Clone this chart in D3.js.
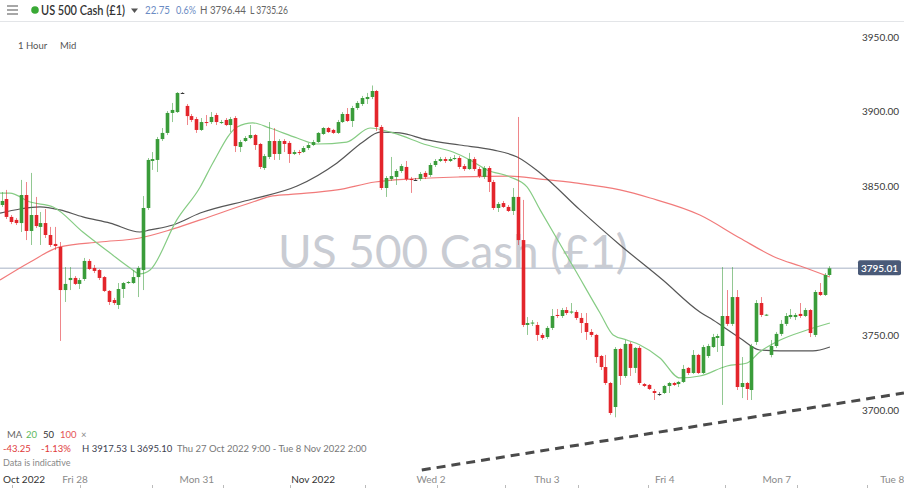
<!DOCTYPE html>
<html><head><meta charset="utf-8">
<script src="https://cdn.jsdelivr.net/npm/d3@7"></script>
<style>html,body{margin:0;padding:0;background:#fff;}svg{display:block;font-family:Lato,"Open Sans",sans-serif;}</style>
</head><body><svg id="c" width="904" height="488"></svg>
<script>
const opens=[3837.4,3841.4,3829.4,3827.4,3825.3,3844.1,3820.0,3830.7,3822.7,3825.3,3817.3,3811.3,3809.3,3780.4,3787.1,3788.5,3784.5,3787.8,3799.9,3795.2,3793.8,3789.1,3779.8,3773.7,3770.4,3781.1,3785.1,3785.1,3789.1,3793.8,3835.4,3866.9,3867.6,3881.6,3885.7,3899.1,3899.7,3912.5,3903.8,3897.0,3895.0,3887.7,3893.0,3893.0,3897.7,3892.4,3894.4,3891.0,3895.7,3876.3,3880.3,3882.3,3884.3,3878.3,3862.2,3869.6,3880.3,3871.6,3880.3,3879.0,3871.6,3872.9,3872.9,3875.6,3877.6,3879.6,3885.0,3889.0,3887.7,3885.7,3893.0,3898.4,3893.7,3902.4,3905.1,3908.4,3909.8,3913.8,3889.7,3848.8,3854.8,3856.2,3860.2,3862.9,3854.8,3854.2,3854.8,3858.9,3857.5,3864.2,3866.9,3868.2,3866.9,3868.2,3868.9,3863.5,3861.5,3868.2,3861.5,3856.2,3862.2,3852.8,3835.4,3838.7,3836.1,3833.4,3842.8,3813.9,3757.0,3758.3,3757.0,3750.3,3748.9,3755.0,3763.7,3763.0,3767.0,3765.3,3765.7,3761.7,3758.3,3752.3,3750.3,3736.2,3728.8,3718.1,3702.0,3740.9,3722.8,3744.3,3728.2,3741.6,3717.4,3716.8,3712.7,3710.7,3711.4,3716.1,3718.1,3717.4,3718.8,3728.2,3724.8,3736.9,3724.8,3736.2,3742.2,3748.3,3742.9,3763.0,3757.7,3775.7,3715.4,3718.1,3713.4,3745.6,3771.7,3763.5,3736.9,3742.9,3751.0,3757.7,3762.3,3762.3,3764.4,3763.0,3767.0,3750.3,3779.1,3777.1,3790.5];
const highs=[3846.1,3847.5,3830.7,3828.7,3854.2,3852.8,3858.9,3842.8,3832.7,3834.7,3822.7,3822.7,3812.6,3795.8,3795.8,3789.8,3788.5,3801.9,3801.2,3797.2,3794.5,3789.8,3780.4,3775.1,3785.1,3785.8,3786.5,3793.8,3796.5,3843.4,3868.9,3872.9,3883.0,3889.0,3900.4,3905.8,3913.1,3913.1,3905.1,3898.4,3896.4,3895.7,3897.7,3899.7,3899.1,3894.4,3895.7,3896.4,3897.0,3881.0,3883.6,3891.0,3885.0,3879.0,3871.6,3893.0,3889.0,3881.6,3881.6,3880.3,3874.3,3874.3,3876.9,3879.0,3881.0,3886.3,3889.7,3889.7,3888.4,3894.4,3899.7,3902.4,3903.8,3907.1,3910.5,3912.5,3917.5,3914.5,3891.0,3856.8,3869.6,3861.5,3864.9,3866.9,3856.2,3855.5,3859.5,3860.2,3865.6,3868.2,3869.6,3869.6,3869.6,3870.9,3870.2,3864.9,3872.3,3869.6,3862.9,3863.5,3863.5,3854.2,3839.4,3840.1,3837.4,3848.8,3896.4,3840.8,3762.3,3760.3,3759.0,3751.6,3756.3,3767.7,3767.7,3768.4,3769.0,3771.7,3767.0,3765.0,3765.0,3754.3,3751.0,3736.9,3736.9,3718.8,3742.2,3741.6,3746.9,3745.6,3742.2,3742.9,3718.1,3717.4,3714.1,3712.0,3716.8,3718.8,3718.8,3719.5,3730.2,3728.8,3740.2,3737.6,3743.6,3744.3,3751.0,3751.0,3795.8,3780.4,3795.8,3780.4,3735.5,3718.8,3744.3,3773.7,3775.7,3764.4,3746.9,3752.3,3760.3,3765.0,3767.7,3765.0,3771.7,3768.4,3767.7,3780.4,3785.1,3791.8,3796.4];
const lows=[3836.1,3828.0,3824.6,3824.0,3819.3,3813.9,3810.6,3822.0,3810.6,3815.3,3809.3,3807.2,3746.3,3772.4,3780.4,3783.8,3781.1,3786.5,3793.8,3791.8,3787.1,3779.1,3770.4,3770.4,3767.7,3775.1,3784.5,3784.5,3775.7,3780.4,3834.1,3860.9,3859.5,3880.3,3884.3,3893.0,3899.1,3911.8,3891.0,3893.0,3885.7,3887.0,3890.3,3891.7,3891.0,3891.7,3890.3,3886.3,3872.9,3872.9,3879.6,3881.6,3874.3,3861.5,3860.9,3868.2,3867.6,3867.6,3872.9,3865.6,3870.9,3870.9,3872.3,3874.3,3876.9,3879.0,3884.3,3885.7,3885.0,3885.0,3892.4,3893.0,3889.7,3901.1,3903.8,3905.1,3908.4,3887.0,3847.5,3842.8,3853.5,3850.8,3858.9,3853.5,3845.5,3853.5,3853.5,3854.8,3856.2,3862.9,3866.2,3865.6,3866.2,3867.6,3861.5,3860.2,3860.9,3860.2,3855.5,3854.8,3846.1,3834.1,3832.7,3835.4,3832.7,3830.7,3810.6,3755.6,3750.3,3756.3,3746.3,3747.0,3747.6,3753.6,3761.7,3761.7,3763.7,3764.4,3760.3,3751.6,3747.0,3748.9,3731.5,3726.8,3716.8,3696.7,3695.1,3716.8,3721.5,3722.8,3724.8,3716.8,3715.4,3713.4,3706.7,3709.4,3710.7,3711.4,3716.1,3715.4,3718.1,3723.5,3724.1,3724.1,3724.1,3734.9,3741.6,3738.9,3703.4,3756.3,3756.3,3713.4,3708.0,3706.7,3706.7,3743.6,3762.3,3763.0,3735.3,3741.6,3749.6,3756.3,3761.0,3760.3,3761.7,3762.3,3748.9,3748.9,3776.4,3776.4,3789.8];
const closes=[3840.1,3829.4,3826.0,3825.3,3844.1,3820.0,3830.7,3823.3,3825.3,3817.3,3810.6,3809.9,3780.4,3784.5,3788.5,3784.5,3787.1,3799.9,3794.5,3793.2,3788.5,3779.8,3772.4,3771.7,3781.1,3785.1,3785.8,3789.1,3795.2,3835.4,3867.6,3868.2,3881.6,3885.7,3899.1,3901.1,3912.5,3912.5,3897.0,3894.4,3887.7,3893.0,3892.4,3896.4,3893.0,3893.0,3891.0,3895.0,3876.9,3879.6,3882.3,3884.3,3877.6,3862.9,3870.2,3880.3,3871.6,3880.3,3878.3,3871.6,3872.9,3872.3,3875.6,3877.6,3879.6,3885.7,3889.0,3886.3,3885.7,3893.0,3898.4,3893.7,3902.4,3905.8,3909.1,3909.8,3913.8,3889.7,3848.8,3855.5,3856.8,3860.2,3863.5,3854.8,3854.2,3854.2,3858.2,3856.2,3864.2,3866.9,3868.2,3866.9,3868.2,3868.9,3862.9,3861.5,3868.2,3861.5,3856.8,3862.2,3852.8,3835.4,3838.1,3836.1,3833.4,3842.8,3813.9,3757.0,3758.3,3758.6,3750.3,3748.3,3755.0,3763.0,3763.0,3767.0,3765.0,3766.0,3761.7,3758.3,3752.3,3750.3,3735.5,3728.8,3718.1,3698.0,3740.9,3722.8,3744.3,3728.2,3741.6,3718.1,3716.1,3714.1,3711.4,3710.7,3716.1,3718.1,3716.8,3718.8,3727.5,3724.8,3736.9,3724.8,3742.2,3742.9,3748.9,3749.6,3763.0,3757.7,3775.7,3715.4,3718.1,3714.1,3742.9,3771.7,3763.7,3763.9,3742.9,3751.0,3757.7,3763.0,3763.7,3763.7,3763.0,3767.0,3751.6,3779.1,3777.1,3790.5,3795.0];

// moving averages: [candle index, value]
const ma20=[[-0.3,3845.4],[1.7,3845.4],[5.9,3839.4],[10.6,3836.1],[16.7,3819.3],[22.3,3805.2],[26.4,3795.2],[28.4,3791.2],[30.5,3793.8],[36.0,3827.4],[40.8,3849.5],[43.4,3865.6],[48.4,3889.7],[51.6,3892.4],[55.1,3889.0],[60.7,3882.3],[64.8,3878.3],[70.9,3879.6],[75.7,3889.0],[80.4,3885.7],[87.4,3877.6],[92.7,3872.9],[96.2,3867.6],[99.7,3860.9],[104.4,3856.2],[107.9,3849.5],[110.6,3834.1],[117.8,3793.8],[122.9,3765.0],[125.6,3750.3],[128.4,3746.9],[131.1,3743.6],[135.2,3734.9],[139.3,3721.5],[143.4,3722.8],[149.0,3729.5],[153.1,3731.5],[155.7,3738.9],[159.9,3746.9],[165.4,3753.6],[170.1,3758.3]];
const ma50=[[-0.3,3832.0],[3.8,3834.7],[7.9,3836.1],[12.0,3834.1],[16.7,3829.4],[22.3,3825.3],[28.4,3819.3],[30.5,3820.7],[35.2,3824.0],[40.8,3832.0],[51.6,3841.4],[60.7,3850.1],[68.9,3865.6],[74.2,3879.6],[77.7,3886.3],[81.8,3885.7],[87.4,3881.0],[94.1,3877.6],[100.9,3874.3],[105.9,3869.6],[110.6,3858.9],[118.8,3834.1],[127.0,3810.6],[135.8,3787.1],[143.4,3765.7],[146.1,3760.3],[151.6,3748.3],[155.7,3740.2],[159.9,3739.6],[166.6,3739.6],[170.1,3742.2]];
const ma100=[[-0.3,3787.1],[5.9,3799.2],[12.0,3809.3],[20.2,3812.6],[28.4,3815.3],[34.6,3820.7],[40.8,3827.4],[51.6,3839.4],[55.7,3843.5],[60.7,3844.8],[68.9,3847.5],[76.7,3852.8],[83.9,3854.8],[94.1,3856.2],[104.4,3856.8],[110.6,3854.8],[117.8,3852.2],[127.0,3847.5],[133.2,3842.1],[143.4,3830.7],[151.6,3815.3],[159.2,3801.9],[164.0,3796.5],[170.1,3789.1]];
const trend=[[86.3,3659.8],[185.3,3711.4]];

const yTicks=[3950,3900,3850,3800,3750,3700];
const dayLabels=["Oct 2022","Fri 28","Mon 31","Nov 2022","Wed 2","Thu 3","Fri 4","Mon 7","Tue 8"];
const dayIdx=[4.2,15.1,40.1,64.0,88.2,112.0,136.2,159.2,182.9];
const tickIdx=[2.2,16.1,30.9,45.5,59.2,74.6,89.4,103.4,118.4,132.8,148.6,163.3,177.7];
const lastPrice=3795.01;

const svg=d3.select("#c");
const x=d3.scaleLinear().domain([0,170]).range([1.5,829.4]);
const y=d3.scaleLinear().domain([3700,3950]).range([410,37]);
const GREEN="#3a9c3a", RED="#e3252b", DOJI="#333";

// header
svg.append("line").attr("x1",0).attr("x2",904).attr("y1",21.5).attr("y2",21.5).attr("stroke","#e3e5e8");
[6,10,14].forEach(v=>svg.append("line").attr("x1",7).attr("x2",18).attr("y1",v).attr("y2",v).attr("stroke","#777").attr("stroke-width",1.3));
svg.append("circle").attr("cx",35).attr("cy",10).attr("r",3.8).attr("fill","#39a935");
svg.append("text").attr("x",41).attr("y",14.5).attr("font-size",12.5).attr("fill","#333").attr("font-weight",600)
  .attr("textLength",84).attr("lengthAdjust","spacingAndGlyphs").text("US 500 Cash (£1)");
svg.append("path").attr("d","M131,8.5 L138,8.5 L134.5,13 Z").attr("fill","#555");
const hdrItems=[["22.75",145,25,"#6b8cc4"],["0.6%",176,20,"#6b8cc4"],["H 3796.44",200,46,"#666"],["L 3735.26",250,38,"#666"]];
hdrItems.forEach(([t,hx,w,c])=>svg.append("text").attr("x",hx).attr("y",14).attr("font-size",10.5).attr("fill",c)
  .attr("textLength",w).attr("lengthAdjust","spacingAndGlyphs").text(t));
svg.append("text").attr("x",18).attr("y",49).attr("font-size",9.5).attr("fill","#555").text("1 Hour");
svg.append("text").attr("x",60).attr("y",49).attr("font-size",9.5).attr("fill","#555").text("Mid");

// watermark
svg.append("text").attr("x",453).attr("y",268).attr("text-anchor","middle").attr("font-size",47)
  .attr("fill","#c9ccd3").attr("textLength",350).attr("lengthAdjust","spacingAndGlyphs").text("US 500 Cash (£1)");

// last price line
svg.append("line").attr("x1",0).attr("x2",858).attr("y1",y(lastPrice)).attr("y2",y(lastPrice)).attr("stroke","#c4cbd8").attr("stroke-width",1.3);

// MA lines
const line=d3.line().x(d=>x(d[0])).y(d=>y(d[1])).curve(d3.curveMonotoneX);
svg.append("path").attr("d",line(ma100)).attr("fill","none").attr("stroke","#ef6b6b").attr("stroke-width",1.2).attr("opacity",0.9);
svg.append("path").attr("d",line(ma50)).attr("fill","none").attr("stroke","#444").attr("stroke-width",1.2).attr("opacity",0.9);
svg.append("path").attr("d",line(ma20)).attr("fill","none").attr("stroke","#86cc84").attr("stroke-width",1.2);

// candles
const data=opens.map((o,i)=>({i,o,h:highs[i],l:lows[i],c:closes[i]}));
const col=d=>d.c>d.o?GREEN:(d.c<d.o?RED:DOJI);
const g=svg.append("g");
g.selectAll("line.w").data(data).join("line").attr("class","w")
  .attr("x1",d=>Math.round(x(d.i))+0.5).attr("x2",d=>Math.round(x(d.i))+0.5)
  .attr("y1",d=>y(d.h)).attr("y2",d=>y(d.l)).attr("stroke",col).attr("stroke-width",1).attr("opacity",0.55);
g.selectAll("rect").data(data).join("rect")
  .attr("x",d=>Math.round(x(d.i))-1.3).attr("width",3.6)
  .attr("y",d=>y(Math.max(d.o,d.c))).attr("height",d=>Math.max(1,Math.abs(y(d.o)-y(d.c))))
  .attr("fill",col);

// trend line
svg.append("path").attr("d",d3.line().x(d=>x(d[0])).y(d=>y(d[1]))(trend))
  .attr("stroke","#4a4a4a").attr("stroke-width",3).attr("stroke-dasharray","9,6").attr("fill","none");

// right axis (the tick hidden under the price box is skipped)
svg.selectAll("text.yt").data(yTicks.filter(v=>Math.abs(y(v)-y(lastPrice))>10)).join("text").attr("class","yt")
  .attr("x",862).attr("y",d=>y(d)+3.5).attr("font-size",10).attr("fill","#3a3a3a").text(d=>d.toFixed(2));
svg.append("rect").attr("x",858).attr("y",y(lastPrice)-8).attr("width",43).attr("height",15).attr("rx",2).attr("fill","#4a5a78");
svg.append("text").attr("x",879.5).attr("y",y(lastPrice)+3.8).attr("text-anchor","middle").attr("font-size",10).attr("font-weight",600).attr("fill","#fff").text(lastPrice.toFixed(2));

// legend
const l1=svg.append("text").attr("y",438).attr("font-size",9.5);
l1.append("tspan").attr("x",7).attr("fill","#666").text("MA");
l1.append("tspan").attr("x",26).attr("fill","#5bb85b").text("20");
l1.append("tspan").attr("x",43).attr("fill","#333").text("50");
l1.append("tspan").attr("x",60).attr("fill","#e55555").text("100");
l1.append("tspan").attr("x",81).attr("fill","#888").text("×");
const l2=svg.append("text").attr("y",452).attr("font-size",9.5);
l2.append("tspan").attr("x",3).attr("fill","#e03a3a").text("-43.25");
l2.append("tspan").attr("x",41).attr("fill","#e03a3a").text("-1.13%");
l2.append("tspan").attr("x",82).attr("fill","#3c4150").text("H 3917.53");
l2.append("tspan").attr("x",130).attr("fill","#3c4150").text("L 3695.10");
l2.append("tspan").attr("x",177).attr("fill","#777").text("Thu 27 Oct 2022 9:00 - Tue 8 Nov 2022 2:00");
svg.append("text").attr("x",3).attr("y",466).attr("font-size",9).attr("fill","#888").text("Data is indicative");

// bottom axis
svg.selectAll("text.xl").data(dayLabels).join("text").attr("class","xl")
  .attr("x",(d,i)=>i===0?3:x(dayIdx[i])).attr("y",483).attr("text-anchor",(d,i)=>i===0?"start":"middle")
  .attr("font-size",10).attr("fill",d=>/2022/.test(d)?"#333":"#8a8a8a").text(d=>d);
svg.selectAll("line.xt").data(tickIdx).join("line").attr("class","xt")
  .attr("x1",d=>Math.round(x(d))+0.5).attr("x2",d=>Math.round(x(d))+0.5).attr("y1",485).attr("y2",488).attr("stroke","#bbb");
</script></body></html>
